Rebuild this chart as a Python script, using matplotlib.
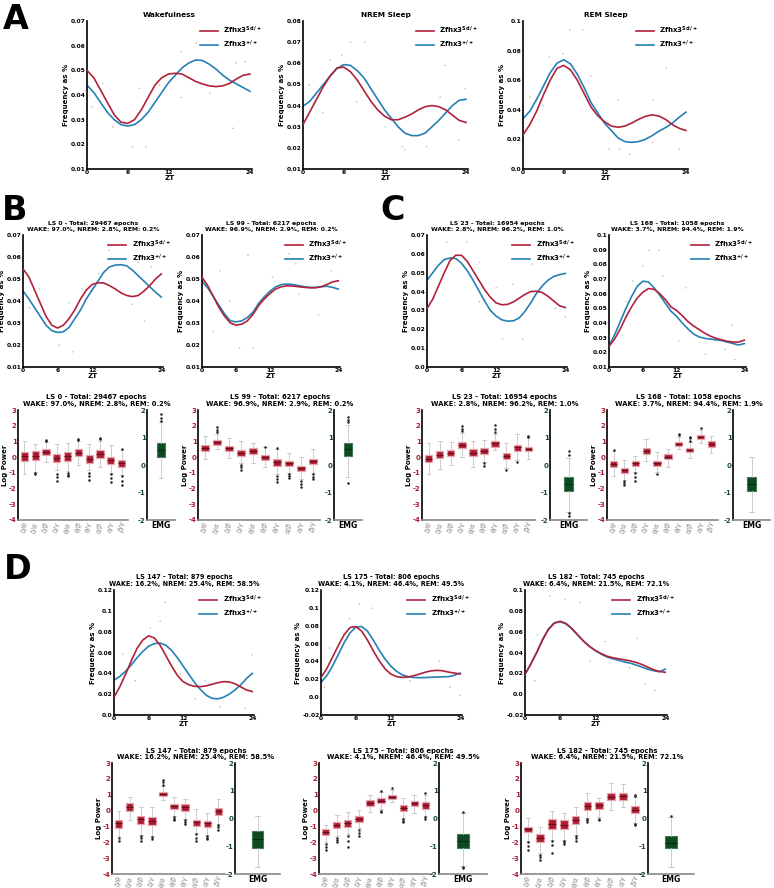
import matplotlib
matplotlib.use('Agg')
import matplotlib.pyplot as plt
import numpy as np
from matplotlib.ticker import FuncFormatter, FixedLocator

plt.rcParams['font.family'] = ['DejaVu Sans']
plt.rcParams['font.weight'] = 'bold'
plt.rcParams['mathtext.default'] = 'regular'
plt.rcParams['axes.unicode_minus'] = False

RED = '#b0223b'
BLUE = '#2580b5'
BOX_RED = '#a81c32'
BOX_EDGE = '#eba3ad'
GREEN = '#0d4a22'
TICK_RED = '#a81c32'
TICK_GREEN = '#1c4d2c'

# ---------------- data: line charts (ZT hourly) ----------------
zt = list(range(25))

wake_sci = [0.050, 0.047, 0.042, 0.037, 0.032, 0.029, 0.0285, 0.030, 0.034, 0.039, 0.044, 0.047, 0.0485,
            0.0488, 0.0485, 0.047, 0.0455, 0.0445, 0.0437, 0.0434, 0.0437, 0.0447, 0.0465, 0.048, 0.0485]
wake_wt = [0.044, 0.041, 0.037, 0.033, 0.030, 0.028, 0.0274, 0.028, 0.030, 0.033, 0.037, 0.041, 0.045,
           0.048, 0.051, 0.053, 0.0542, 0.054, 0.0525, 0.0505, 0.048, 0.046, 0.0445, 0.043, 0.0415]
wake_dx = [16.1, 13.9, 10.7, 7.7, 6.7, 8.7, 3.8, 0.8, 21.5, 23.3, 22.0, 18.1, 13.9, 2.3]
wake_dy = [0.061, 0.0576, 0.044, 0.0427, 0.019, 0.019, 0.027, 0.0353, 0.0265, 0.0535, 0.053, 0.0407, 0.039, 0.0447]

nrem_sci = [0.031, 0.037, 0.043, 0.049, 0.054, 0.0578, 0.0582, 0.056, 0.052, 0.047, 0.042, 0.038, 0.035,
            0.0333, 0.0333, 0.0345, 0.036, 0.038, 0.0395, 0.040, 0.0395, 0.038, 0.0355, 0.033, 0.032]
nrem_wt = [0.0397, 0.042, 0.046, 0.050, 0.054, 0.0575, 0.0594, 0.059, 0.0565, 0.053, 0.048, 0.043, 0.038,
           0.034, 0.030, 0.027, 0.0258, 0.0258, 0.027, 0.030, 0.033, 0.0365, 0.040, 0.0425, 0.043]
nrem_dx = [7.0, 9.1, 4.0, 5.7, 0.9, 2.9, 7.9, 14.6, 15.0, 12.1, 20.9, 18.2, 22.9, 23.9, 20.2]
nrem_dy = [0.070, 0.070, 0.0615, 0.0638, 0.0497, 0.0366, 0.0418, 0.0206, 0.019, 0.030, 0.059, 0.0206,
           0.0237, 0.048, 0.044]

rem_sci = [0.023, 0.030, 0.039, 0.050, 0.060, 0.068, 0.070, 0.067, 0.060, 0.051, 0.042, 0.036, 0.032,
           0.029, 0.0282, 0.029, 0.031, 0.0335, 0.0355, 0.0366, 0.0358, 0.0335, 0.030, 0.0275, 0.026]
rem_wt = [0.034, 0.039, 0.047, 0.056, 0.065, 0.0715, 0.0738, 0.071, 0.064, 0.055, 0.045, 0.038, 0.031,
          0.026, 0.021, 0.0185, 0.018, 0.0185, 0.020, 0.0225, 0.0255, 0.028, 0.031, 0.035, 0.0384]
rem_dx = [6.9, 8.8, 5.9, 3.9, 10.0, 21.1, 1.0, 2.9, 14.0, 19.1, 12.7, 14.2, 15.7, 23.0, 19.1]
rem_dy = [0.094, 0.094, 0.078, 0.0756, 0.063, 0.068, 0.0485, 0.043, 0.0467, 0.0467, 0.0135, 0.0135,
          0.010, 0.0135, 0.018]

ls0_sci = [0.0546, 0.051, 0.045, 0.039, 0.033, 0.029, 0.0277, 0.029, 0.032, 0.036, 0.041, 0.045, 0.0475,
           0.0483, 0.0482, 0.047, 0.0455, 0.0437, 0.0425, 0.042, 0.0425, 0.0445, 0.047, 0.050, 0.0523]
ls0_wt = [0.0446, 0.041, 0.037, 0.033, 0.029, 0.0265, 0.0257, 0.026, 0.028, 0.032, 0.036, 0.041, 0.045,
          0.049, 0.053, 0.0555, 0.0563, 0.0565, 0.056, 0.054, 0.0515, 0.049, 0.0465, 0.044, 0.0418]
ls0_dx = [14.9, 20.0, 22.3, 13.1, 2.9, 8.0, 6.3, 8.6, 18.9, 21.1, 1.1, 10.3]
ls0_dy = [0.063, 0.0577, 0.0554, 0.0523, 0.0454, 0.0392, 0.020, 0.0169, 0.0385, 0.0308, 0.0369, 0.0454]

ls99_sci = [0.0508, 0.047, 0.042, 0.037, 0.033, 0.030, 0.029, 0.0295, 0.031, 0.034, 0.038, 0.041, 0.0435,
            0.0455, 0.0465, 0.0469, 0.0468, 0.0465, 0.0462, 0.046, 0.046, 0.0465, 0.0475, 0.0487, 0.0492]
ls99_wt = [0.049, 0.046, 0.042, 0.038, 0.034, 0.031, 0.0305, 0.031, 0.0325, 0.035, 0.039, 0.042, 0.0445,
           0.0465, 0.0475, 0.0477, 0.0475, 0.047, 0.0465, 0.0462, 0.0462, 0.0465, 0.0467, 0.0462, 0.0454]
ls99_dx = [8.1, 3.2, 4.9, 6.6, 9.0, 15.3, 16.5, 22.8, 20.5, 17.1, 12.4, 2.0]
ls99_dy = [0.0608, 0.0538, 0.040, 0.0185, 0.0185, 0.0615, 0.0569, 0.0538, 0.0338, 0.0431, 0.0508, 0.0262]

ls23_sci = [0.031, 0.036, 0.043, 0.050, 0.0565, 0.0593, 0.0592, 0.056, 0.051, 0.046, 0.041, 0.037, 0.034,
            0.033, 0.0332, 0.0345, 0.0365, 0.0385, 0.040, 0.0402, 0.0395, 0.0375, 0.035, 0.0325, 0.0315]
ls23_wt = [0.046, 0.050, 0.054, 0.057, 0.0578, 0.0575, 0.055, 0.051, 0.046, 0.0405, 0.035, 0.030, 0.027,
           0.025, 0.0243, 0.0245, 0.026, 0.0295, 0.034, 0.039, 0.043, 0.046, 0.048, 0.049, 0.0496]
ls23_dx = [3.4, 6.9, 1.1, 9.1, 12.0, 18.3, 13.1, 16.6, 22.3, 24.0, 9.1, 14.9]
ls23_dy = [0.0664, 0.0664, 0.050, 0.0555, 0.042, 0.0546, 0.0148, 0.0148, 0.0311, 0.0266, 0.0347, 0.0438]

ls168_sci = [0.024, 0.029, 0.036, 0.044, 0.051, 0.057, 0.061, 0.0635, 0.063, 0.060, 0.056, 0.051, 0.0485,
             0.045, 0.041, 0.038, 0.0355, 0.033, 0.031, 0.0295, 0.0285, 0.0275, 0.027, 0.027, 0.0283]
ls168_wt = [0.0245, 0.032, 0.041, 0.050, 0.058, 0.065, 0.0685, 0.068, 0.064, 0.059, 0.0535, 0.048, 0.0445,
            0.040, 0.036, 0.0325, 0.0305, 0.0295, 0.029, 0.0285, 0.028, 0.027, 0.026, 0.025, 0.026]
ls168_dx = [7.1, 8.9, 6.0, 4.2, 9.5, 13.6, 3.0, 12.4, 17.1, 20.6, 22.3, 21.8]
ls168_dy = [0.0895, 0.0895, 0.079, 0.0686, 0.072, 0.064, 0.0547, 0.0279, 0.0186, 0.022, 0.0151, 0.0384]

ls147_sci = [0.017, 0.027, 0.039, 0.052, 0.064, 0.072, 0.076, 0.074, 0.067, 0.057, 0.047, 0.038, 0.032,
             0.029, 0.0275, 0.0272, 0.028, 0.0295, 0.031, 0.032, 0.0318, 0.030, 0.027, 0.024, 0.0225]
ls147_wt = [0.0335, 0.037, 0.042, 0.048, 0.055, 0.061, 0.066, 0.0685, 0.069, 0.067, 0.062, 0.055, 0.047,
            0.039, 0.031, 0.0245, 0.019, 0.016, 0.0155, 0.017, 0.020, 0.024, 0.029, 0.035, 0.040]
ls147_dx = [8.9, 6.3, 8.0, 1.5, 11.5, 15.8, 14.1, 18.4, 22.8, 24.0, 3.7]
ls147_dy = [0.108, 0.0836, 0.090, 0.0586, 0.0391, 0.0329, 0.0156, 0.0078, 0.0062, 0.058, 0.0329]

ls175_sci = [0.022, 0.032, 0.045, 0.058, 0.070, 0.078, 0.079, 0.074, 0.064, 0.052, 0.041, 0.032, 0.026,
             0.023, 0.0222, 0.0225, 0.024, 0.026, 0.028, 0.0295, 0.030, 0.0295, 0.028, 0.027, 0.026]
ls175_wt = [0.0165, 0.024, 0.035, 0.048, 0.061, 0.072, 0.0785, 0.079, 0.074, 0.064, 0.053, 0.043, 0.035,
            0.029, 0.025, 0.023, 0.022, 0.0218, 0.022, 0.0222, 0.0225, 0.0228, 0.023, 0.0245, 0.027]
ls175_dx = [6.6, 8.8, 4.9, 1.5, 0.6, 10.9, 15.3, 20.4, 22.2, 23.9]
ls175_dy = [0.104, 0.0996, 0.0879, 0.055, 0.0112, 0.035, 0.0185, 0.0404, 0.0112, 0.0021]

ls182_sci = [0.019, 0.029, 0.040, 0.052, 0.062, 0.068, 0.070, 0.068, 0.063, 0.057, 0.051, 0.046, 0.042,
             0.039, 0.0365, 0.035, 0.034, 0.033, 0.032, 0.0305, 0.0285, 0.026, 0.0235, 0.0218, 0.021]
ls182_wt = [0.019, 0.029, 0.040, 0.0525, 0.0625, 0.0685, 0.0695, 0.0675, 0.063, 0.057, 0.051, 0.046, 0.042,
            0.0385, 0.0358, 0.034, 0.0325, 0.031, 0.0298, 0.028, 0.026, 0.024, 0.0225, 0.0215, 0.024]
ls182_dx = [4.3, 6.8, 9.4, 2.1, 13.7, 11.1, 17.9, 20.5, 22.2, 19.2, 1.7]
ls182_dy = [0.0944, 0.0912, 0.088, 0.0567, 0.0505, 0.0317, 0.0254, 0.0097, 0.0035, 0.0536, 0.0129]

# ---------------- data: box plots ----------------
ratio_labels = ['δ/θ', 'δ/α', 'δ/β', 'δ/γ', 'θ/α', 'θ/β', 'θ/γ', 'α/β', 'α/γ', 'β/γ']

ls0_q1 = [-0.25, -0.18, 0.13, -0.30, -0.25, 0.07, -0.35, -0.04, -0.46, -0.60]
ls0_med = [0.05, 0.10, 0.30, -0.05, 0.05, 0.27, -0.10, 0.20, -0.20, -0.40]
ls0_q3 = [0.35, 0.41, 0.50, 0.20, 0.35, 0.50, 0.13, 0.45, 0.03, -0.18]
ls0_lo = [-1.10, -0.97, -0.33, -0.82, -0.88, -0.50, -0.82, -0.65, -1.00, -1.15]
ls0_hi = [1.05, 0.81, 0.98, 0.81, 0.88, 1.00, 0.81, 1.00, 0.80, 0.45]
ls0_fl = [[], [-1.0, -1.05], [1.05, 1.1], [-1.05, -1.25, -1.5], [-1.0, -1.15, -1.2], [1.1, 1.18],
          [-1.0, -1.2, -1.45], [1.15, 1.22], [-1.1, -1.35, -1.6], [0.5, -1.2, -1.5, -1.8]]
ls0_emg = [0.28, 0.55, 0.81, -0.46, 1.55]
ls0_emg_fl = [1.6, 1.7, 1.85]

ls99_q1 = [0.39, 0.80, 0.41, 0.09, 0.18, -0.18, -0.55, -0.55, -0.88, -0.45]
ls99_med = [0.60, 0.95, 0.58, 0.27, 0.38, 0.00, -0.30, -0.38, -0.70, -0.25]
ls99_q3 = [0.77, 1.09, 0.73, 0.45, 0.56, 0.13, -0.12, -0.23, -0.55, -0.12]
ls99_lo = [-0.15, 0.55, -0.05, -0.40, -0.35, -0.60, -1.10, -1.00, -1.40, -1.00]
ls99_hi = [1.35, 1.50, 1.20, 1.00, 0.92, 0.62, 0.55, 0.28, 0.00, 0.50]
ls99_fl = [[], [1.6, 1.75, 1.9], [], [-0.5, -0.65, -0.8], [], [0.65],
           [0.6, -1.2, -1.4, -1.6], [-1.1, -1.2, -1.3], [-1.5, -1.7, -1.9], [-1.1, -1.25, -1.4]]
ls99_emg = [0.33, 0.58, 0.81, -0.42, 1.45]
ls99_emg_fl = [1.55, 1.65, 1.75, -0.65]

ls23_q1 = [-0.29, -0.08, 0.07, 0.56, 0.07, 0.18, 0.67, -0.12, 0.39, 0.39]
ls23_med = [-0.10, 0.15, 0.28, 0.78, 0.28, 0.38, 0.87, 0.10, 0.63, 0.53]
ls23_q3 = [0.13, 0.39, 0.45, 0.98, 0.50, 0.56, 1.05, 0.28, 0.77, 0.66]
ls23_lo = [-1.10, -0.78, -0.50, 0.03, -0.60, -0.30, 0.45, -0.70, -0.18, -0.12]
ls23_hi = [0.92, 1.00, 0.95, 1.55, 1.05, 1.10, 1.50, 0.88, 1.47, 1.20]
ls23_fl = [[], [], [], [1.65, 1.8, 2.0], [], [-0.4, -0.55], [1.6, 1.8, 2.05], [-0.8], [-0.3], [1.3, 1.35]]
ls23_emg = [-0.95, -0.70, -0.45, -1.70, 0.25]
ls23_emg_fl = [0.35, 0.5, -1.75, -1.85]

ls168_q1 = [-0.65, -1.03, -0.57, 0.20, -0.55, -0.12, 0.73, 0.32, 1.15, 0.67]
ls168_med = [-0.45, -0.85, -0.40, 0.38, -0.40, 0.04, 0.85, 0.46, 1.28, 0.83]
ls168_q3 = [-0.25, -0.67, -0.25, 0.56, -0.23, 0.20, 0.98, 0.60, 1.41, 1.03]
ls168_lo = [-1.20, -1.45, -0.93, -0.25, -0.95, -0.60, 0.55, -0.08, 0.88, 0.24]
ls168_hi = [0.40, -0.18, 0.07, 1.13, 0.30, 0.52, 1.30, 0.98, 1.73, 1.35]
ls168_fl = [[0.45], [-1.5, -1.65, -1.8], [-1.0, -1.25, -1.5], [], [-1.1], [],
            [1.38, 1.5], [1.05, 1.2, 1.3], [1.85], []]
ls168_emg = [-0.93, -0.70, -0.42, -1.70, 0.28]
ls168_emg_fl = []

ls147_q1 = [-1.07, -0.02, -0.84, -0.90, 0.89, 0.09, -0.02, -0.95, -1.01, -0.27]
ls147_med = [-0.80, 0.22, -0.55, -0.65, 1.03, 0.27, 0.20, -0.75, -0.80, -0.05]
ls147_q3 = [-0.59, 0.47, -0.33, -0.42, 1.16, 0.42, 0.42, -0.59, -0.64, 0.15]
ls147_lo = [-1.60, -0.59, -1.55, -1.60, 0.68, -0.35, -0.55, -1.40, -1.55, -0.84]
ls147_hi = [-0.02, 0.83, 0.20, 0.20, 1.52, 0.85, 0.72, 0.10, -0.16, 0.72]
ls147_fl = [[-1.7, -1.95], [], [-1.6, -1.75, -1.9], [-1.65, -1.8], [1.6, 1.8, 1.95], [-0.4, -0.5, -0.6],
            [-0.6, -0.75, -0.85], [-1.5, -1.7, -1.9], [-1.6, -1.7, -1.8], [-0.9, -1.05, -1.2]]
ls147_emg = [-1.07, -0.75, -0.45, -1.76, 0.10]
ls147_emg_fl = []

ls175_q1 = [-1.54, -1.12, -1.01, -0.70, 0.30, 0.47, 0.72, -0.02, 0.30, 0.11]
ls175_med = [-1.35, -0.92, -0.78, -0.50, 0.50, 0.62, 0.88, 0.17, 0.45, 0.32]
ls175_q3 = [-1.16, -0.73, -0.59, -0.33, 0.68, 0.78, 1.00, 0.36, 0.61, 0.51]
ls175_lo = [-2.00, -1.60, -1.47, -1.10, -0.06, 0.10, 0.51, -0.48, -0.16, -0.37]
ls175_hi = [-0.90, -0.27, -0.06, 0.05, 1.00, 1.20, 1.30, 0.78, 1.00, 1.00]
ls175_fl = [[-2.1, -2.3, -2.5], [-1.7, -1.85, -2.0], [-1.6, -1.9, -2.3], [-1.2, -1.4, -1.6], [],
            [1.25, 0.0, -0.1], [1.45], [-0.55, -0.65, -0.75], [], [1.1, -0.4, -0.5]]
ls175_emg = [-1.07, -0.80, -0.55, -1.71, 0.20]
ls175_emg_fl = [0.25, -1.75, -1.8]

ls182_q1 = [-1.37, -2.00, -1.16, -1.16, -0.84, 0.04, 0.11, 0.68, 0.68, -0.16]
ls182_med = [-1.17, -1.75, -0.85, -0.88, -0.60, 0.30, 0.32, 0.88, 0.90, 0.05]
ls182_q3 = [-1.01, -1.50, -0.55, -0.59, -0.33, 0.51, 0.51, 1.10, 1.10, 0.30]
ls182_lo = [-1.95, -2.70, -1.85, -1.85, -1.55, -0.48, -0.42, 0.05, 0.22, -0.80]
ls182_hi = [-0.48, -1.02, -0.02, -0.13, 0.20, 1.10, 0.78, 1.73, 1.67, 0.85]
ls182_fl = [[-2.0, -2.25, -2.5], [-2.8, -2.95, -3.1], [-1.9, -2.2, -2.7], [-1.9, -2.0, -2.1],
            [-1.6, -1.75, -1.9], [-0.5, -0.6, -0.7], [-0.5, -0.6], [], [], [0.9, 1.0, -0.85, -0.9]]
ls182_emg = [-1.07, -0.88, -0.63, -1.76, 0.07]
ls182_emg_fl = [0.1]

titles = {
    'ls0': 'LS 0 - Total: 29467 epochs\nWAKE: 97.0%, NREM: 2.8%, REM: 0.2%',
    'ls99': 'LS 99 - Total: 6217 epochs\nWAKE: 96.9%, NREM: 2.9%, REM: 0.2%',
    'ls23': 'LS 23 - Total: 16954 epochs\nWAKE: 2.8%, NREM: 96.2%, REM: 1.0%',
    'ls168': 'LS 168 - Total: 1058 epochs\nWAKE: 3.7%, NREM: 94.4%, REM: 1.9%',
    'ls147': 'LS 147 - Total: 879 epochs\nWAKE: 16.2%, NREM: 25.4%, REM: 58.5%',
    'ls175': 'LS 175 - Total: 806 epochs\nWAKE: 4.1%, NREM: 46.4%, REM: 49.5%',
    'ls182': 'LS 182 - Total: 745 epochs\nWAKE: 6.4%, NREM: 21.5%, REM: 72.1%',
}

W, H = 774, 888
fig = plt.figure(figsize=(W / 100, H / 100), dpi=100)


def rect(x0, x1, y0, y1):
    return [x0 / W, 1 - y1 / H, (x1 - x0) / W, (y1 - y0) / H]


def yfmt(v, pos):
    v = round(v, 3)
    if v == 0:
        return '0.0'
    return '%g' % v


def line_panel(pos, sci, wt, dx, dy, yticks, title=None, tsize=4.4):
    ax = fig.add_axes(rect(*pos))
    dot_cols = ['#e2a3ae' if i % 2 == 0 else '#9fc6e0' for i in range(len(dx))]
    ax.scatter(dx, dy, s=1.2, c=dot_cols, lw=0, zorder=1)
    ax.plot(zt, sci, color=RED, lw=1.2, label='Zfhx3$^{Sci/+}$', solid_joinstyle='round', zorder=3)
    ax.plot(zt, wt, color=BLUE, lw=1.2, label='Zfhx3$^{+/+}$', solid_joinstyle='round', zorder=2)
    ax.set_xlim(0, 24.3)
    ax.set_ylim(yticks[0], yticks[-1])
    ax.set_xticks([0, 6, 12, 24])
    ax.yaxis.set_major_locator(FixedLocator(yticks))
    ax.yaxis.set_major_formatter(FuncFormatter(yfmt))
    for s in ['top', 'right']:
        ax.spines[s].set_visible(False)
    for s in ['left', 'bottom']:
        ax.spines[s].set_linewidth(1.2)
    ax.tick_params(length=0, pad=1, labelsize=4.3)
    ax.set_xlabel('ZT', fontsize=5, fontweight='bold', labelpad=0)
    ax.set_ylabel('Frequency as %', fontsize=5, fontweight='bold', labelpad=1)
    ax.legend(loc='upper right', bbox_to_anchor=(1.1, 1.02), frameon=False,
              prop={'size': 5, 'weight': 'bold'}, handlelength=2.6, labelspacing=0.4)
    if title:
        ax.set_title(title, fontsize=tsize, fontweight='bold', pad=3, linespacing=1.1)
    return ax


def stats_list(q1, med, q3, lo, hi, fl):
    return [dict(q1=a, med=b, q3=c, whislo=d, whishi=e, fliers=f)
            for a, b, c, d, e, f in zip(q1, med, q3, lo, hi, fl)]


def box_panel(main_pos, emg_pos, y0, y1, stats, emg, emg_fl, title):
    ax = fig.add_axes(rect(main_pos[0], main_pos[1], y0, y1))
    ax.bxp(stats, positions=range(1, 11), widths=0.66, patch_artist=True,
           boxprops=dict(facecolor=BOX_RED, edgecolor=BOX_EDGE, lw=0.9),
           medianprops=dict(color='#6e0c1c', lw=0.8),
           whiskerprops=dict(color='#c4c4c4', lw=0.6),
           capprops=dict(color='#c4c4c4', lw=0.6),
           flierprops=dict(marker='.', ms=1.6, mfc='#222222', mec='#222222'))
    ax.set_xlim(0.4, 10.6)
    ax.set_ylim(-4, 3)
    ax.set_yticks(range(-4, 4))
    ax.set_xticks(range(1, 11))
    ax.set_xticklabels(ratio_labels, rotation=80, fontsize=5, color='#8a8a8a',
                       fontstyle='italic', fontweight='normal')
    ax.tick_params(axis='y', length=0, pad=1, labelsize=5, labelcolor=TICK_RED)
    ax.tick_params(axis='x', length=0, pad=1)
    for s in ['top', 'right']:
        ax.spines[s].set_visible(False)
    ax.spines['left'].set_linewidth(1.2)
    ax.spines['bottom'].set_linewidth(1.2)
    ax.spines['bottom'].set_color('#888888')
    ax.set_ylabel('Log Power', fontsize=5, fontweight='bold', labelpad=0.5)

    ex = fig.add_axes(rect(emg_pos[0], emg_pos[1], y0, y1))
    q1, med, q3, lo, hi = emg
    ex.bxp([dict(q1=q1, med=med, q3=q3, whislo=lo, whishi=hi, fliers=emg_fl)],
           positions=[1], widths=0.26, patch_artist=True,
           boxprops=dict(facecolor=GREEN, edgecolor='#3f7a55', lw=0.8),
           medianprops=dict(color='#05300f', lw=0.8),
           whiskerprops=dict(color='#c4c4c4', lw=0.6),
           capprops=dict(color='#c4c4c4', lw=0.6),
           flierprops=dict(marker='.', ms=1.6, mfc='#222222', mec='#222222'))
    ex.set_xlim(0.5, 1.5)
    ex.set_ylim(-2, 2)
    ex.set_yticks(range(-2, 3))
    ex.set_xticks([1])
    ex.set_xticklabels(['EMG'], fontsize=5.5, fontweight='bold')
    ex.tick_params(axis='y', length=0, pad=1, labelsize=5, labelcolor=TICK_GREEN)
    ex.tick_params(axis='x', length=0, pad=1)
    for s in ['top', 'right']:
        ex.spines[s].set_visible(False)
    ex.spines['left'].set_linewidth(1.2)
    ex.spines['bottom'].set_linewidth(1.2)
    ex.spines['bottom'].set_color('#888888')

    cx = (main_pos[0] + emg_pos[1]) / 2 / W
    fig.text(cx, 1 - (y0 - 3) / H, title, ha='center', va='bottom', fontsize=4.9,
             fontweight='bold', linespacing=1.1)


# ---------------- panel A ----------------
line_panel((87, 252, 21, 169), wake_sci, wake_wt, wake_dx, wake_dy,
           [0.01, 0.02, 0.03, 0.04, 0.05, 0.06, 0.07], 'Wakefulness', 5.3)
line_panel((303, 468, 21, 169), nrem_sci, nrem_wt, nrem_dx, nrem_dy,
           [0.01, 0.02, 0.03, 0.04, 0.05, 0.06, 0.07, 0.08], 'NREM Sleep', 5.3)
line_panel((523, 688, 21, 169), rem_sci, rem_wt, rem_dx, rem_dy,
           [0.0, 0.02, 0.04, 0.06, 0.08, 0.1], 'REM Sleep', 5.3)

# ---------------- panels B and C, line charts ----------------
t7 = [0.01, 0.02, 0.03, 0.04, 0.05, 0.06, 0.07]
line_panel((23, 163, 235, 367), ls0_sci, ls0_wt, ls0_dx, ls0_dy, t7, titles['ls0'])
line_panel((202, 340, 235, 367), ls99_sci, ls99_wt, ls99_dx, ls99_dy, t7, titles['ls99'])
line_panel((427, 567, 235, 367), ls23_sci, ls23_wt, ls23_dx, ls23_dy,
           [0.0, 0.01, 0.02, 0.03, 0.04, 0.05, 0.06, 0.07], titles['ls23'])
line_panel((609, 746, 235, 367), ls168_sci, ls168_wt, ls168_dx, ls168_dy,
           [0.01, 0.02, 0.03, 0.04, 0.05, 0.06, 0.07, 0.08, 0.09, 0.1], titles['ls168'])

# ---------------- panels B and C, box plots ----------------
box_panel((18, 128), (147, 175), 410, 520,
          stats_list(ls0_q1, ls0_med, ls0_q3, ls0_lo, ls0_hi, ls0_fl), ls0_emg, ls0_emg_fl, titles['ls0'])
box_panel((198, 320), (334, 362), 410, 520,
          stats_list(ls99_q1, ls99_med, ls99_q3, ls99_lo, ls99_hi, ls99_fl), ls99_emg, ls99_emg_fl,
          titles['ls99'])
box_panel((422, 535), (550, 587), 410, 520,
          stats_list(ls23_q1, ls23_med, ls23_q3, ls23_lo, ls23_hi, ls23_fl), ls23_emg, ls23_emg_fl,
          titles['ls23'])
box_panel((607, 718), (733, 770), 410, 520,
          stats_list(ls168_q1, ls168_med, ls168_q3, ls168_lo, ls168_hi, ls168_fl), ls168_emg, ls168_emg_fl,
          titles['ls168'])

# ---------------- panel D ----------------
line_panel((114, 254, 590, 715), ls147_sci, ls147_wt, ls147_dx, ls147_dy,
           [0.0, 0.02, 0.04, 0.06, 0.08, 0.1, 0.12], titles['ls147'], 4.7)
line_panel((321, 462, 590, 715), ls175_sci, ls175_wt, ls175_dx, ls175_dy,
           [-0.02, 0.0, 0.02, 0.04, 0.06, 0.08, 0.1, 0.12], titles['ls175'], 4.7)
line_panel((525, 667, 590, 715), ls182_sci, ls182_wt, ls182_dx, ls182_dy,
           [-0.02, 0.0, 0.02, 0.04, 0.06, 0.08, 0.1], titles['ls182'], 4.7)

box_panel((112, 225), (235, 280), 763, 874,
          stats_list(ls147_q1, ls147_med, ls147_q3, ls147_lo, ls147_hi, ls147_fl), ls147_emg, ls147_emg_fl,
          titles['ls147'])
box_panel((319, 432), (439, 487), 763, 874,
          stats_list(ls175_q1, ls175_med, ls175_q3, ls175_lo, ls175_hi, ls175_fl), ls175_emg, ls175_emg_fl,
          titles['ls175'])
box_panel((521, 642), (648, 694), 763, 874,
          stats_list(ls182_q1, ls182_med, ls182_q3, ls182_lo, ls182_hi, ls182_fl), ls182_emg, ls182_emg_fl,
          titles['ls182'])

# panel letters
for letter, x, y in [('A', 3, 3), ('B', 2, 194), ('C', 380, 194), ('D', 4, 553)]:
    fig.text(x / W, 1 - y / H, letter, fontsize=24, fontweight='bold', va='top', ha='left')

fig.savefig('out.png', dpi=100)
